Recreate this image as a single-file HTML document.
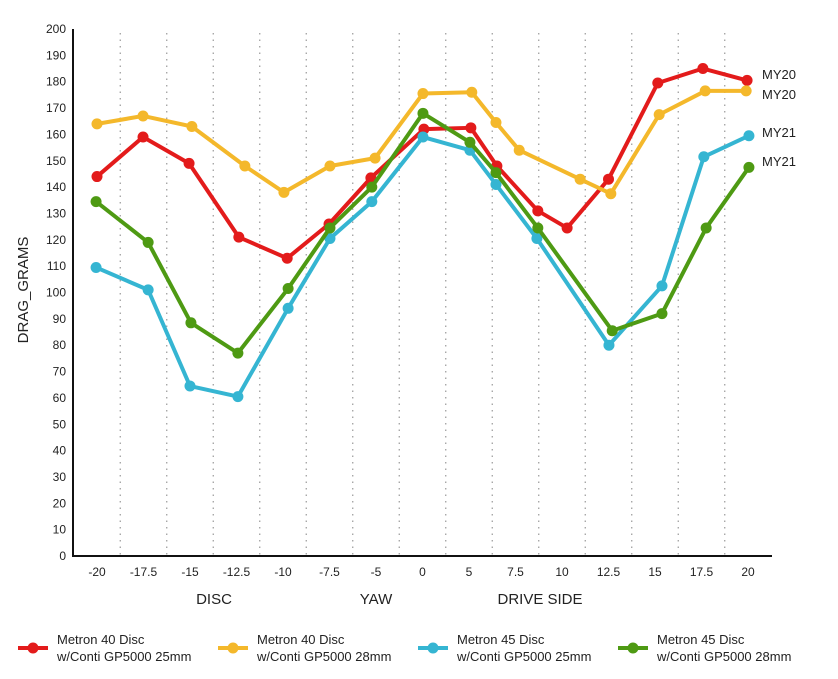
<!DOCTYPE html>
<html><head><meta charset="utf-8"><style>
body{margin:0;background:#fff;width:838px;height:674px;overflow:hidden}
svg text{font-family:"Liberation Sans Narrow","Liberation Sans",sans-serif;fill:#222}
</style></head><body>
<svg id="chart" width="838" height="674" xmlns="http://www.w3.org/2000/svg"></svg>
<script>
const categories=["-20","-17.5","-15","-12.5","-10","-7.5","-5","0","5","7.5","10","12.5","15","17.5","20"];
const yTicks=[0,10,20,30,40,50,60,70,80,90,100,110,120,130,140,150,160,170,180,190,200];
const redX=[0,0.99,1.98,3.05,4.09,4.99,5.89,7.03,8.04,8.6,9.48,10.11,11.0,12.06,13.03,13.98];
const redY=[144,159,149,121,113,126,143.5,162,162.5,148,131,124.5,143,179.5,185,180.5];
const orangeX=[0,0.99,2.04,3.18,4.02,5.01,5.98,7.01,8.06,8.58,9.08,10.39,11.05,12.09,13.08,13.96];
const orangeY=[164,167,163,148,138,148,151,175.5,176,164.5,154,143,137.5,167.5,176.5,176.5];
const cyanX=[-0.02,1.1,2.0,3.03,4.11,5.01,5.91,7.01,8.02,8.58,9.46,11.01,12.15,13.05,14.02];
const cyanY=[109.5,101,64.5,60.5,94,120.5,134.5,159,154,141,120.5,80,102.5,151.5,159.5];
const greenX=[-0.02,1.1,2.02,3.03,4.11,5.01,5.91,7.01,8.02,8.58,9.48,11.08,12.15,13.1,14.02];
const greenY=[134.5,119,88.5,77,101.5,124.5,140,168,157,145.5,124.5,85.5,92,124.5,147.5];
const seriesNames=["Metron 40 Disc MY20 25mm","Metron 40 Disc MY20 28mm","Metron 45 Disc MY21 25mm","Metron 45 Disc MY21 28mm"];
const endLabels=["MY20","MY20","MY21","MY21"];
const legend1=["Metron 40 Disc","Metron 40 Disc","Metron 45 Disc","Metron 45 Disc"];
const legend2=["w/Conti GP5000 25mm","w/Conti GP5000 28mm","w/Conti GP5000 25mm","w/Conti GP5000 28mm"];
const colors=["#e31b1b","#f4b82b","#35b5d2","#4e9a13"];
const NS="http://www.w3.org/2000/svg";
const svg=document.getElementById('chart');
const x0=97,dx=46.5,y0=556,yTop=29;
const xs=i=>x0+i*dx;
const ys=v=>y0-(v/200)*(y0-yTop);
function el(t,a,p){const e=document.createElementNS(NS,t);for(const k in a)e.setAttribute(k,a[k]);(p||svg).appendChild(e);return e;}
// grid
for(let i=0;i<categories.length-1;i++){
 const g=el('line',{x1:xs(i+0.5),x2:xs(i+0.5),y1:33,y2:y0,stroke:'#999','stroke-width':1.2,'stroke-dasharray':'1.5,5'});
 
 
}
const ya=el('line',{x1:73,x2:73,y1:29,y2:y0+1,stroke:'#111','stroke-width':2});


const xa=el('line',{x1:72,x2:772,y1:y0,y2:y0,stroke:'#111','stroke-width':2});


yTicks.forEach(v=>{const t=el('text',{x:66,y:ys(v)+4,'text-anchor':'end','font-size':12});t.textContent=v;
 
 });
categories.forEach((c,i)=>{const t=el('text',{x:xs(i),y:576,'text-anchor':'middle','font-size':12});t.textContent=c;
 
 });
[["DISC",214],["YAW",376],["DRIVE SIDE",540]].forEach(([s,x])=>{const t=el('text',{x:x,y:604,'text-anchor':'middle','font-size':15});t.textContent=s;
 
 });
const yt=el('text',{x:0,y:0,'text-anchor':'middle','font-size':15,transform:'translate(28,290) rotate(-90)'});yt.textContent="DRAG_GRAMS";


const allX=[redX,orangeX,cyanX,greenX],allY=[redY,orangeY,cyanY,greenY];
const labelY=[74,94,132,161];
for(let s=0;s<4;s++){
 const pts=allX[s].map((x,i)=>xs(x)+','+ys(allY[s][i])).join(' ');
 const pl=el('polyline',{points:pts,fill:'none',stroke:colors[s],'stroke-width':4,'stroke-linejoin':'round'});
 
 
 allX[s].forEach((x,i)=>{const c=el('circle',{cx:xs(x),cy:ys(allY[s][i]),r:5.5,fill:colors[s]});
  
  });
 const t=el('text',{x:762,y:labelY[s]+5,'font-size':13});t.textContent=endLabels[s];
 
 
 const lx=18+s*200;
 const ll=el('line',{x1:lx,x2:lx+30,y1:648,y2:648,stroke:colors[s],'stroke-width':4});
 
 
 const lc=el('circle',{cx:lx+15,cy:648,r:5.5,fill:colors[s]});
 
 
 const t1=el('text',{x:lx+39,y:644,'font-size':13});t1.textContent=legend1[s];
 
 
 const t2=el('text',{x:lx+39,y:661,'font-size':13});t2.textContent=legend2[s];
 
 
}
</script>
</body></html>
